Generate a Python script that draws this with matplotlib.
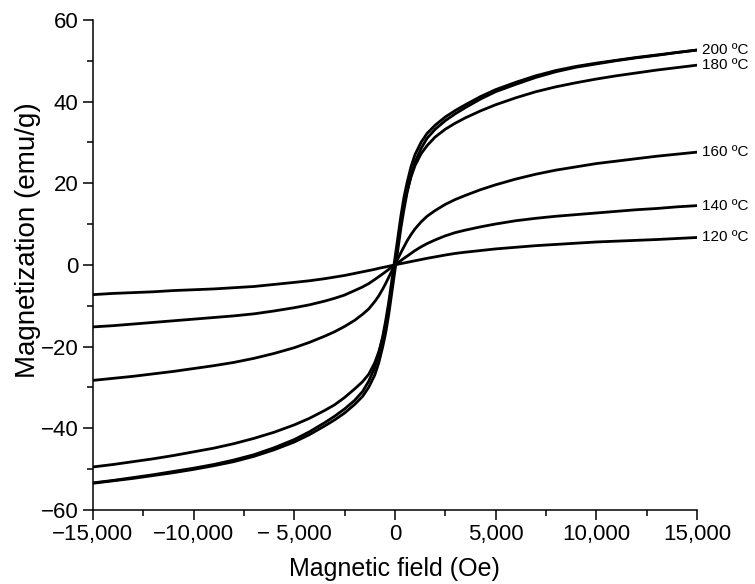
import matplotlib
matplotlib.use('Agg')
import matplotlib.pyplot as plt
from matplotlib.ticker import MultipleLocator, FixedLocator, FixedFormatter

plt.rcParams['font.family'] = ['Liberation Sans', 'DejaVu Sans']

# magnetic field (Oe)
field = [-15000, -14000, -13000, -12000, -11000, -10000, -9000, -8000, -7000, -6000,
         -5000, -4250, -3500, -3000, -2500, -2000, -1600, -1300, -1000, -800,
         -600, -450, -300, -200, -100,
         0,
         100, 200, 300, 450, 600, 800, 1000, 1300, 1600, 2000,
         2500, 3000, 3500, 4250, 5000, 6000, 7000, 8000, 9000, 10000,
         11000, 12000, 13000, 14000, 15000]

# magnetization (emu/g), 200 C loop: descending and ascending branches
m200_down = [-53.4, -52.8, -52.1, -51.4, -50.6, -49.8, -48.9, -47.8, -46.5, -44.8,
             -42.8, -40.9, -38.7, -37.1, -35.3, -33.2, -31.0, -28.5, -25.2, -21.8,
             -17.5, -13.5, -9.0, -5.5, -2.0,
             1.5,
             5.0, 8.5, 12.0, 16.5, 20.0, 24.0, 27.0, 30.0, 32.2, 34.2,
             36.2, 37.8, 39.2, 41.2, 42.9, 44.7, 46.3, 47.6, 48.6, 49.4,
             50.1, 50.8, 51.4, 52.0, 52.6]
m200_up = [-53.5, -52.9, -52.3, -51.6, -50.9, -50.1, -49.2, -48.2, -46.9, -45.3,
           -43.4, -41.6, -39.5, -38.0, -36.3, -34.2, -32.2, -30.0, -27.0, -24.0,
           -20.0, -16.5, -12.0, -8.5, -5.0,
           -1.5,
           2.0, 5.5, 9.0, 13.5, 17.5, 21.8, 25.2, 28.5, 31.0, 33.2,
           35.3, 37.0, 38.5, 40.6, 42.4, 44.2, 45.9, 47.3, 48.4, 49.2,
           50.0, 50.7, 51.3, 52.0, 52.6]
m180 = [-49.5, -48.9, -48.2, -47.5, -46.7, -45.8, -44.9, -43.8, -42.5, -41.0,
        -39.2, -37.6, -35.7, -34.3, -32.5, -30.4, -28.6, -26.8, -24.0, -21.3,
        -17.8, -14.3, -10.4, -7.0, -3.5,
        0.0,
        3.5, 7.0, 10.5, 14.5, 18.0, 21.5, 24.3, 27.2, 29.2, 31.3,
        33.2, 34.7, 36.0, 37.7, 39.2, 40.9, 42.4, 43.6, 44.6, 45.5,
        46.3, 47.0, 47.7, 48.3, 48.9]
m160 = [-28.3, -27.8, -27.3, -26.7, -26.1, -25.4, -24.7, -23.9, -22.9, -21.7,
        -20.3, -19.0, -17.5, -16.4, -15.1, -13.6, -12.1, -10.8, -9.0, -7.6,
        -5.9, -4.5, -3.0, -2.0, -1.0,
        0.0,
        1.0, 2.0, 3.0, 4.4, 5.8, 7.4, 8.8, 10.5, 11.9, 13.3,
        14.8, 16.0, 17.0, 18.4, 19.6, 21.0, 22.2, 23.2, 24.0, 24.8,
        25.4, 26.0, 26.6, 27.1, 27.6]
m140 = [-15.2, -14.9, -14.5, -14.1, -13.7, -13.3, -12.9, -12.5, -12.0, -11.3,
        -10.5, -9.8, -8.9, -8.2, -7.4, -6.3, -5.4, -4.6, -3.6, -2.9,
        -2.2, -1.65, -1.1, -0.7, -0.35,
        0.0,
        0.35, 0.7, 1.05, 1.6, 2.1, 2.8, 3.5, 4.4, 5.2, 6.1,
        7.1, 7.9, 8.5, 9.3, 10.0, 10.8, 11.4, 11.9, 12.3, 12.7,
        13.1, 13.5, 13.8, 14.2, 14.5]
m120 = [-7.3, -7.0, -6.8, -6.6, -6.3, -6.1, -5.9, -5.6, -5.3, -4.8,
        -4.3, -3.9, -3.4, -3.0, -2.6, -2.1, -1.7, -1.4, -1.1, -0.85,
        -0.65, -0.5, -0.33, -0.22, -0.11,
        0.0,
        0.1, 0.2, 0.3, 0.45, 0.6, 0.8, 1.0, 1.3, 1.6, 1.95,
        2.4, 2.8, 3.1, 3.5, 3.9, 4.3, 4.7, 5.0, 5.3, 5.6,
        5.8, 6.0, 6.2, 6.45, 6.7]

curve_labels = ["200 \u00baC", "180 \u00baC", "160 \u00baC", "140 \u00baC", "120 \u00baC"]
label_ends = [m200_down[-1], m180[-1], m160[-1], m140[-1], m120[-1]]

x_ticks = [-15000, -10000, -5000, 0, 5000, 10000, 15000]
x_tick_labels = ["\u221215,000", "\u221210,000", "\u2212 5,000", "0", "5,000", "10,000", "15,000"]

fig = plt.figure(figsize=(7.55, 5.84), dpi=100)
ax = fig.add_axes([0.123, 0.127, 0.8, 0.839])

for m in [m200_down, m200_up, m180, m160, m140, m120]:
    ax.plot(field, m, color="black", linewidth=2.0, solid_joinstyle="round")

for lab, yv in zip(curve_labels, label_ends):
    ax.text(15250, yv, lab, fontsize=11, va="center", ha="left", clip_on=False)

ax.set_xlim(-15000, 15000)
ax.set_ylim(-60, 60)
ax.xaxis.set_major_locator(FixedLocator(x_ticks))
ax.xaxis.set_major_formatter(FixedFormatter(x_tick_labels))
ax.xaxis.set_minor_locator(MultipleLocator(2500))
ax.yaxis.set_major_locator(MultipleLocator(20))
ax.yaxis.set_minor_locator(MultipleLocator(10))

ax.spines["top"].set_visible(False)
ax.spines["right"].set_visible(False)
for s in ["left", "bottom"]:
    ax.spines[s].set_linewidth(1.1)
ax.tick_params(which="major", direction="out", length=7, width=1.1, labelsize=16)
ax.tick_params(which="minor", direction="out", length=4, width=1.1)

ax.set_xlabel("Magnetic field (Oe)", fontsize=18)
ax.set_ylabel("Magnetization (emu/g)", fontsize=20)
ax.xaxis.set_label_coords(0.5, -0.097)
ax.yaxis.set_label_coords(-0.107, 0.551)
ax.yaxis.label.set_va("center")

fig.savefig("out.png", dpi=100)
